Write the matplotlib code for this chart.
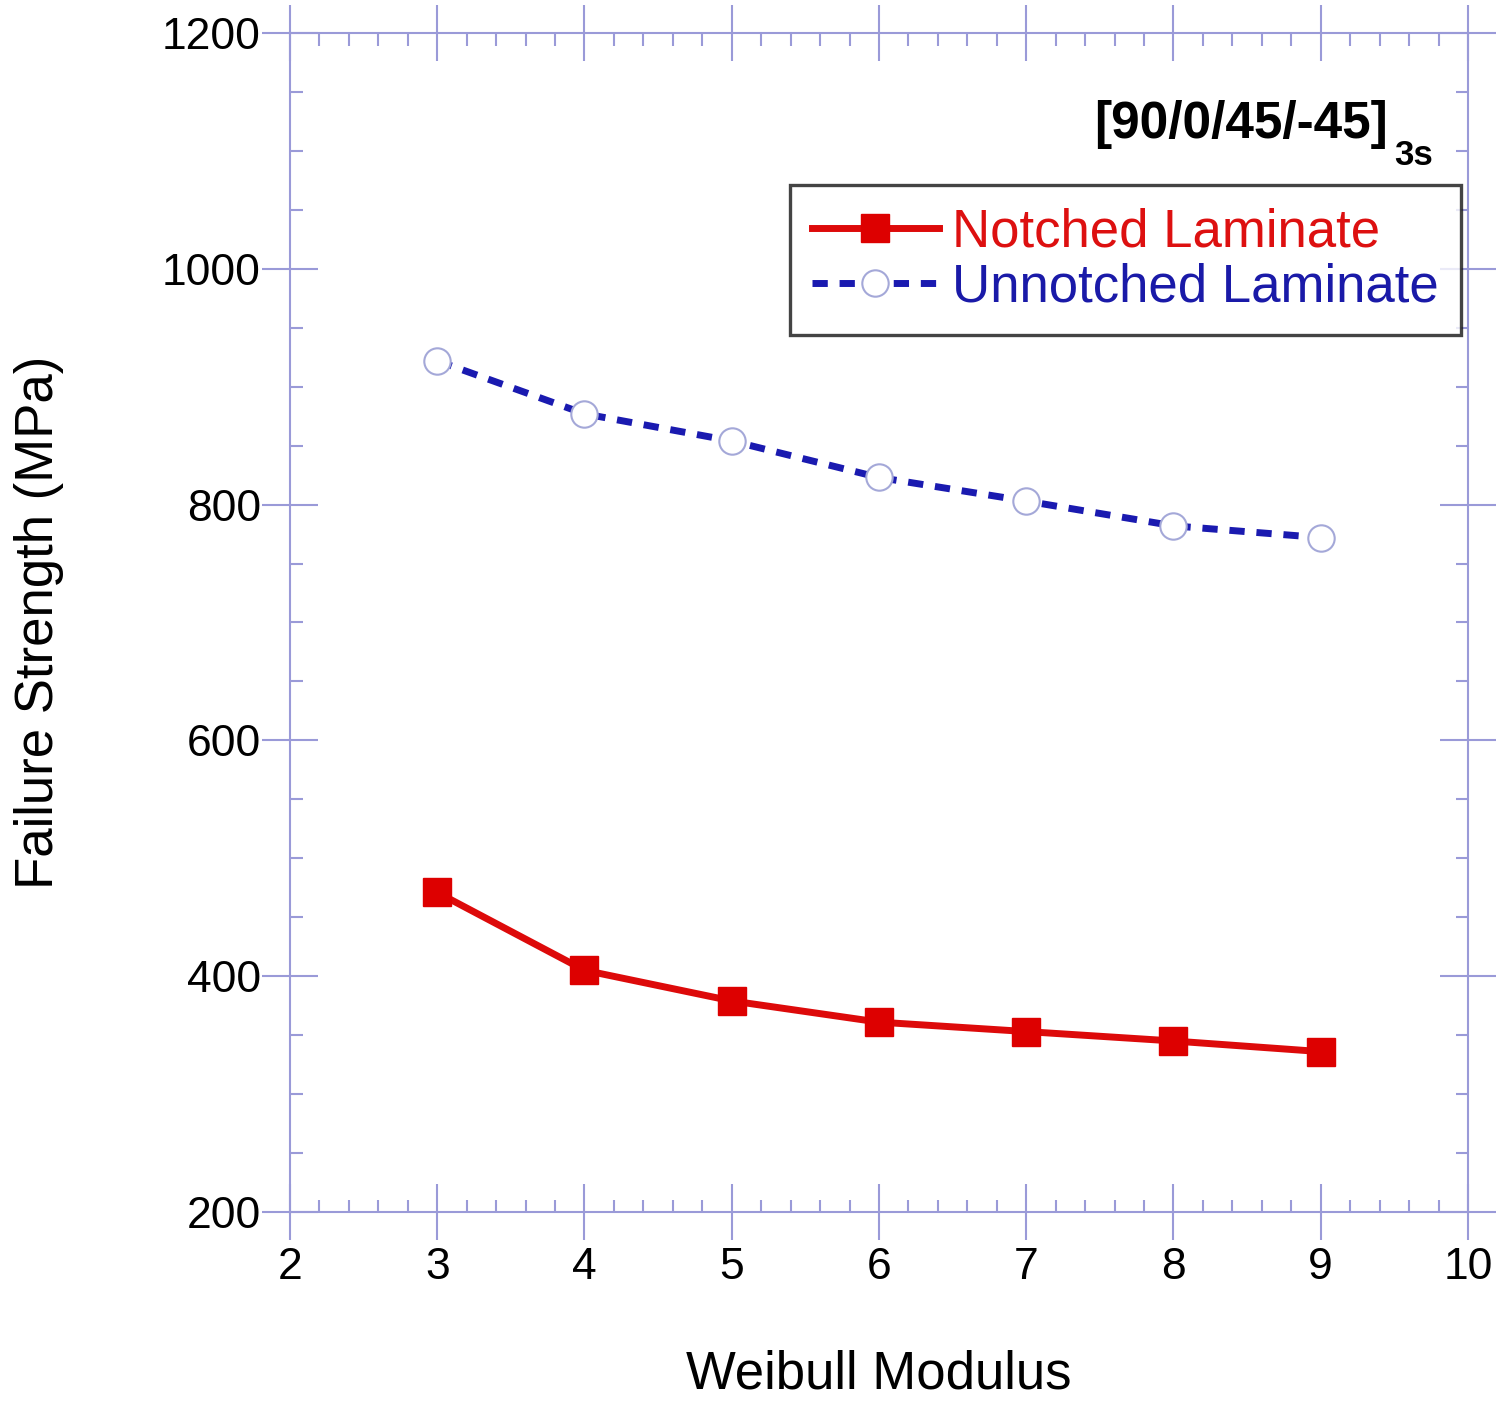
import matplotlib
matplotlib.use("Agg")
import matplotlib.pyplot as plt
from matplotlib.ticker import MultipleLocator

plt.rcParams['font.family'] = ['Liberation Sans', 'DejaVu Sans']

# data
weibull_modulus = [3, 4, 5, 6, 7, 8, 9]
notched = [471, 405, 379, 361, 353, 345, 336]
unnotched = [922, 877, 854, 823, 803, 782, 772]

axis_col = '#9a9ad8'

fig = plt.figure(figsize=(15.01, 14.13), dpi=100)
ax = fig.add_axes([0.1932, 0.1423, 0.7848, 0.8343])

ax.plot(weibull_modulus, notched, color='#dd0a0a', lw=5, marker='s', ms=20,
        mfc='#dd0000', mec='#dd0000', label='Notched Laminate', zorder=3)
ax.plot(weibull_modulus, unnotched, color='#1a1ab0', lw=5, ls=(0, (2.2, 1.7)),
        marker='o', ms=19, mfc='white', mec='#a4a8d8', mew=1.5,
        label='Unnotched Laminate', zorder=3)

ax.set_xlim(2, 10)
ax.set_ylim(200, 1200)
ax.xaxis.set_major_locator(MultipleLocator(1))
ax.xaxis.set_minor_locator(MultipleLocator(0.2))
ax.yaxis.set_major_locator(MultipleLocator(200))
ax.yaxis.set_minor_locator(MultipleLocator(50))

for s in ax.spines.values():
    s.set_color(axis_col)
    s.set_linewidth(1.5)
ax.tick_params(which='major', direction='inout', length=40, width=1.5,
               color=axis_col, labelsize=32, top=True, right=True)
ax.tick_params(axis='x', which='major', pad=5)
ax.tick_params(axis='y', which='major', pad=1)
ax.tick_params(which='minor', direction='in', length=9, width=1.5,
               color=axis_col, top=True, right=True)

ax.set_xlabel('Weibull Modulus', fontsize=38)
ax.xaxis.set_label_coords(0.5, -0.117)
ax.set_ylabel('Failure Strength (MPa)', fontsize=38)
ax.yaxis.set_label_coords(-0.192, 0.5)

# layup label with subscript
ax.text(0.932, 0.911, '[90/0/45/-45]', transform=ax.transAxes,
        fontsize=37, fontweight='bold', ha='right', va='baseline')
ax.text(0.937, 0.888, '3s', transform=ax.transAxes,
        fontsize=25, fontweight='bold', ha='left', va='baseline')

leg = ax.legend(loc='upper right', bbox_to_anchor=(0.994, 0.871), fontsize=38,
                frameon=True, fancybox=False, edgecolor='#151515',
                handlelength=2.4, handletextpad=0.25, borderpad=0.42,
                labelspacing=0.1, borderaxespad=0)
leg.get_frame().set_linewidth(2.4)
for t, c in zip(leg.get_texts(), ['#dd1010', '#1a1aa8']):
    t.set_color(c)

fig.savefig('out.png', dpi=100)
